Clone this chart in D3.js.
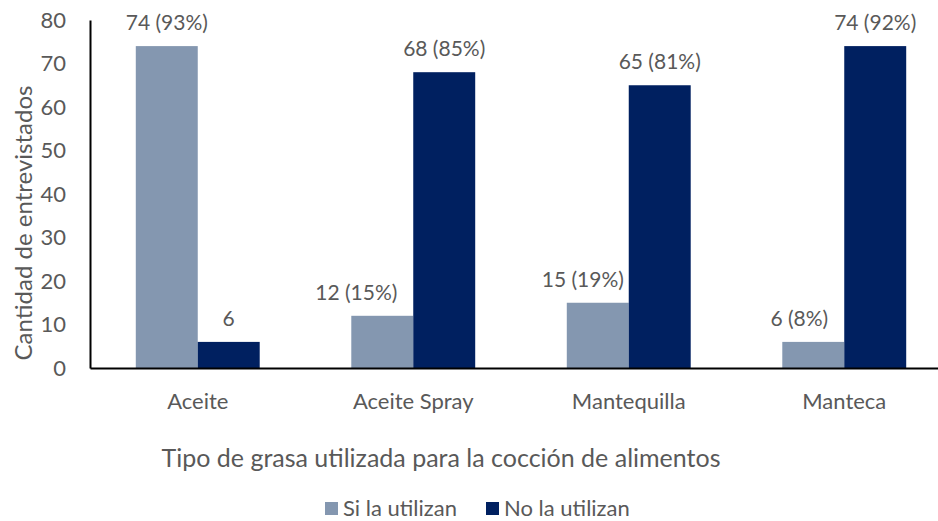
<!DOCTYPE html>
<html>
<head>
<meta charset="utf-8">
<script src="https://cdn.jsdelivr.net/npm/d3@7"></script>
<style>
  body { margin: 0; background: #fff; }
  text { font-family: Lato, "Open Sans", sans-serif; fill: #595959; }
</style>
</head>
<body>
<div class="chart"></div>
<script>
// chart data
var categories = ["Aceite", "Aceite Spray", "Mantequilla", "Manteca"];
var seriesNames = ["Si la utilizan", "No la utilizan"];
var siValues = [74, 12, 15, 6];
var noValues = [6, 68, 65, 74];
var siLabels = ["74 (93%)", "12 (15%)", "15 (19%)", "6 (8%)"];
var noLabels = ["6", "68 (85%)", "65 (81%)", "74 (92%)"];
var yTicks = [0, 10, 20, 30, 40, 50, 60, 70, 80];
var colors = ["#8497b0", "#002060"];
// the "Si" labels were nudged left in the original so they clear the dark bar
var siLabelShift = [0, -26, -15, -14];

var svgWidth = 938;
var svgHeight = 521;

var margin = { top: 20, left: 90 };
var plotRight = 952;   // plot area runs past the right edge of the picture
var plotBottom = 368;

var svg = d3.select(".chart")
  .append("svg")
  .attr("width", svgWidth)
  .attr("height", svgHeight);

// scales
var x0 = d3.scaleBand()
  .domain(categories)
  .range([margin.left, plotRight])
  .paddingInner(0.425)
  .paddingOuter(0.2125);

var x1 = d3.scaleBand()
  .domain(seriesNames)
  .range([0, x0.bandwidth()]);

var y = d3.scaleLinear()
  .domain([0, 80])
  .range([plotBottom, margin.top]);

// build rows for the grouped bars
var rows = categories.map(function(c, i) {
  return {
    cat: c,
    values: [
      { name: seriesNames[0], value: siValues[i], label: siLabels[i], dx: siLabelShift[i] },
      { name: seriesNames[1], value: noValues[i], label: noLabels[i], dx: 0 }
    ]
  };
});

var groups = svg.selectAll("g.cat")
  .data(rows)
  .enter()
  .append("g")
  .attr("class", "cat")
  .attr("transform", d => `translate(${x0(d.cat)},0)`);

groups.selectAll("rect")
  .data(d => d.values)
  .enter()
  .append("rect")
  .attr("x", d => x1(d.name))
  .attr("y", d => y(d.value))
  .attr("width", x1.bandwidth())
  .attr("height", d => y(0) - y(d.value))
  .attr("fill", (d, i) => colors[i]);

// data labels
groups.selectAll("text.val")
  .data(d => d.values)
  .enter()
  .append("text")
  .attr("class", "val")
  .attr("x", d => x1(d.name) + x1.bandwidth() / 2 + d.dx)
  .attr("y", d => y(d.value) - 16)
  .attr("text-anchor", "middle")
  .style("font-size", "21px")
  .text(d => d.label);

// y axis
var yAxis = d3.axisLeft(y).tickValues(yTicks).tickSize(0).tickPadding(24);
var yg = svg.append("g")
  .attr("transform", `translate(${margin.left},0)`)
  .call(yAxis);
yg.select(".domain").attr("stroke", "#000").attr("stroke-width", 2);
yg.selectAll("text").style("font-size", "22px").attr("fill", "#595959");

// x axis
var xAxis = d3.axisBottom(x0).tickSize(0).tickPadding(25);
var xg = svg.append("g")
  .attr("transform", `translate(0,${plotBottom})`)
  .call(xAxis);
xg.select(".domain").attr("stroke", "#000").attr("stroke-width", 2);
xg.selectAll("text").style("font-size", "22px").attr("fill", "#595959");

// axis titles
svg.append("text")
  .attr("transform", "rotate(-90)")
  .attr("x", -223)
  .attr("y", 32)
  .attr("text-anchor", "middle")
  .style("font-size", "24px")
  .text("Cantidad de entrevistados");

svg.append("text")
  .attr("x", 441)
  .attr("y", 467)
  .attr("text-anchor", "middle")
  .style("font-size", "25px")
  .text("Tipo de grasa utilizada para la cocción de alimentos");

// legend
var legendX = [325, 486];
var legend = svg.selectAll("g.legend")
  .data(seriesNames)
  .enter()
  .append("g")
  .attr("class", "legend")
  .attr("transform", (d, i) => `translate(${legendX[i]},502)`);

legend.append("rect")
  .attr("width", 13)
  .attr("height", 13)
  .attr("fill", (d, i) => colors[i]);

legend.append("text")
  .attr("x", 18)
  .attr("y", 14)
  .style("font-size", "22px")
  .text(d => d);
</script>
</body>
</html>
